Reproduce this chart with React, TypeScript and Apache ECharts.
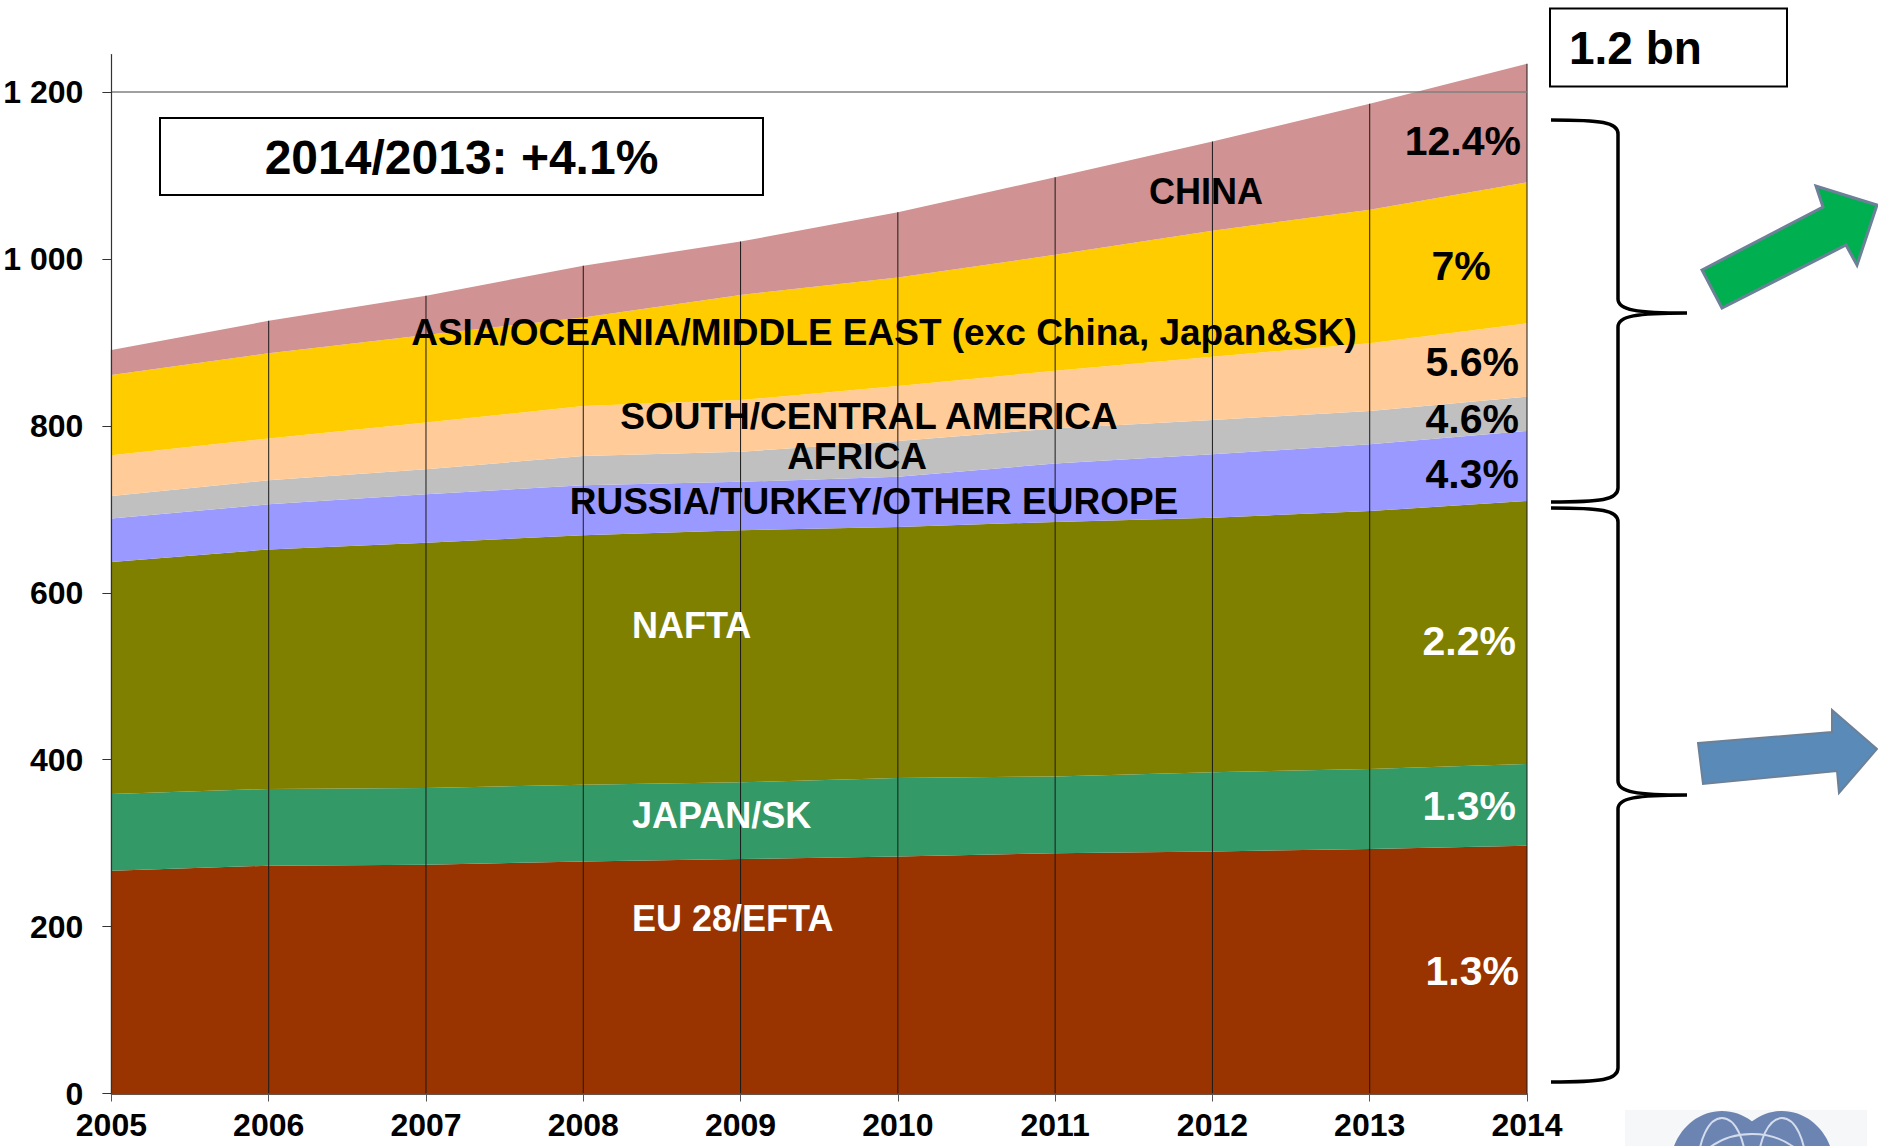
import React, { useEffect, useRef } from 'react';
import * as echarts from 'echarts';

const FONT = "'Liberation Sans', Arial, Helvetica, sans-serif";

const years = ['2005', '2006', '2007', '2008', '2009', '2010', '2011', '2012', '2013', '2014'];
const euEfta = [267, 273, 274, 278, 281, 284, 288, 290, 293, 297];
const japanSk = [92, 92, 92, 92, 92, 94, 92, 95, 96, 98];
const nafta = [278, 287, 294, 299, 302, 301, 305, 305, 309, 315];
const russiaTurkey = [52, 54, 58, 60, 58, 60, 70, 76, 80, 84];
const africa = [27, 29, 30, 35, 36, 43, 42, 41, 40, 41];
const southCentralAmerica = [49, 50, 56, 60, 62, 66, 69, 76, 81, 88];
const asiaOceania = [96, 102, 105, 106, 126, 130, 139, 151, 160, 169];
const china = [30, 39, 47, 62, 64, 78, 93, 107, 127, 142];
const yTicks = [0, 200, 400, 600, 800, 1000, 1200];

const regionNames = [
  'EU 28/EFTA', 'JAPAN/SK', 'NAFTA', 'RUSSIA/TURKEY/OTHER EUROPE', 'AFRICA',
  'SOUTH/CENTRAL AMERICA', 'ASIA/OCEANIA/MIDDLE EAST (exc China, Japan&SK)', 'CHINA',
];
const regionColors = ['#993300', '#339966', '#808000', '#9999FF', '#C0C0C0', '#FFCC99', '#FFCC00', '#D09292'];
const growthLabels = ['1.3%', '1.3%', '2.2%', '4.3%', '4.6%', '5.6%', '7%', '12.4%'];
const totalGrowth = '2014/2013: +4.1%';
const totalLabel = '1.2 bn';

const regionData = [euEfta, japanSk, nafta, russiaTurkey, africa, southCentralAmerica, asiaOceania, china];
const totals = years.map((_, i) => regionData.reduce((s, arr) => s + arr[i], 0));

function bracePath(xL: number, xS: number, xT: number, y0: number, ym: number, y1: number) {
  const r = 14;
  return `M${xL} ${y0} C${xL + 50} ${y0} ${xS} ${y0 + 2} ${xS} ${y0 + r} L${xS} ${ym - r} C${xS} ${ym - 3} ${xS + 18} ${ym} ${xT} ${ym} M${xT} ${ym} C${xS + 18} ${ym} ${xS} ${ym + 3} ${xS} ${ym + r} L${xS} ${y1 - r} C${xS} ${y1 - 2} ${xL + 50} ${y1} ${xL} ${y1}`;
}

const txt = (text: string, x: number, y: number, size: number, color: string, align = 'center') => ({
  type: 'text',
  x,
  y,
  z: 100,
  silent: true,
  style: {
    text,
    fill: color,
    fontSize: size,
    fontWeight: 'bold',
    fontFamily: FONT,
    align,
    verticalAlign: 'middle',
    textAlign: align,
    textVerticalAlign: 'middle',
  },
});

export default function App() {
  const ref = useRef<HTMLDivElement>(null);

  useEffect(() => {
    if (!ref.current) return;
    echarts.graphic.registerShape('braceUpper', echarts.graphic.extendPath(bracePath(1551, 1618, 1687, 120, 313, 502), {}));
    echarts.graphic.registerShape('braceLower', echarts.graphic.extendPath(bracePath(1551, 1618, 1687, 508, 795, 1082), {}));
    const chart = echarts.init(ref.current, undefined, { renderer: 'svg' });

    const areaSeries = regionData.map((d, i) => ({
      name: regionNames[i],
      type: 'line',
      stack: 'total',
      data: d,
      symbol: 'none',
      showSymbol: false,
      lineStyle: { width: 0 },
      areaStyle: { color: regionColors[i], opacity: 1 },
      itemStyle: { color: regionColors[i] },
      z: 2,
      silent: true,
    }));

    const option: any = {
      animation: false,
      backgroundColor: '#ffffff',
      grid: { left: 111.4, right: 351, top: 54.6, bottom: 52.5, containLabel: false, outerBoundsMode: 'none' },
      xAxis: {
        type: 'category',
        data: years,
        boundaryGap: false,
        axisLine: { lineStyle: { color: '#3a1a0a', width: 1.5 } },
        axisTick: { show: true, length: 8, lineStyle: { color: '#555' } },
        axisLabel: { color: '#000', fontSize: 32, fontWeight: 'bold', fontFamily: FONT, margin: 15 },
        splitLine: { show: false },
        z: 10,
      },
      yAxis: {
        type: 'value',
        min: 0,
        max: 1245,
        interval: 200,
        axisLine: { show: true, lineStyle: { color: '#333', width: 1.2 } },
        axisTick: { show: true, length: 9, customValues: yTicks, lineStyle: { color: '#333' } },
        axisLabel: {
          customValues: yTicks,
          color: '#000',
          fontSize: 32,
          fontWeight: 'bold',
          fontFamily: FONT,
          margin: 28,
          formatter: (v: number) => (v >= 1000 ? `${Math.floor(v / 1000)} ${String(v % 1000).padStart(3, '0')}` : String(v)),
        },
        splitLine: { show: false },
        z: 10,
      },
      series: [
        ...areaSeries,
        {
          name: 'drop',
          type: 'bar',
          data: totals,
          barWidth: 1,
          itemStyle: { color: '#1a1a1a' },
          z: 4,
          silent: true,
          markLine: {
            symbol: 'none',
            silent: true,
            label: { show: false },
            lineStyle: { color: '#808080', width: 1.5, type: 'solid' },
            data: [{ yAxis: 1200 }],
          },
        },
      ],
      graphic: [
        { type: 'rect', z: 99, shape: { x: 160, y: 118, width: 603, height: 77 }, style: { fill: '#fff', stroke: '#000', lineWidth: 2 } },
        txt(totalGrowth, 461.5, 157, 48, '#000'),
        { type: 'rect', z: 99, shape: { x: 1550, y: 8.5, width: 237, height: 78 }, style: { fill: '#fff', stroke: '#000', lineWidth: 2 } },
        txt(totalLabel, 1569, 48, 46, '#000', 'left'),
        // region labels
        txt(regionNames[7], 1206, 191, 36, '#000'),
        txt(regionNames[6], 884, 332, 37, '#000'),
        txt(regionNames[5], 869, 416, 37, '#000'),
        txt(regionNames[4], 857, 456, 37, '#000'),
        txt(regionNames[3], 874, 501, 37, '#000'),
        txt(regionNames[2], 632, 625, 36, '#fff', 'left'),
        txt(regionNames[1], 632, 815, 36, '#fff', 'left'),
        txt(regionNames[0], 632, 918, 36, '#fff', 'left'),
        // growth labels
        txt(growthLabels[7], 1521, 141, 41, '#000', 'right'),
        txt(growthLabels[6], 1461, 266, 41, '#000'),
        txt(growthLabels[5], 1519, 362, 41, '#000', 'right'),
        txt(growthLabels[4], 1519, 419, 41, '#000', 'right'),
        txt(growthLabels[3], 1519, 474, 41, '#000', 'right'),
        txt(growthLabels[2], 1516, 641, 41, '#fff', 'right'),
        txt(growthLabels[1], 1516, 806, 41, '#fff', 'right'),
        txt(growthLabels[0], 1519, 971, 41, '#fff', 'right'),
        // braces
        { type: 'braceUpper', z: 100, silent: true, style: { stroke: '#000', lineWidth: 3.5, fill: 'none' } },
        { type: 'braceLower', z: 100, silent: true, style: { stroke: '#000', lineWidth: 3.5, fill: 'none' } },
        // arrows
        {
          type: 'polygon', z: 100, silent: true,
          shape: { points: [[1702, 270], [1823, 207], [1816, 186], [1877, 205], [1857, 265], [1846, 245], [1722, 308]] },
          style: { fill: '#00B050', stroke: '#6C8198', lineWidth: 3 },
        },
        {
          type: 'polygon', z: 100, silent: true,
          shape: { points: [[1698, 743], [1832, 732], [1832, 710], [1877, 749], [1839, 793], [1837, 771], [1703, 784]] },
          style: { fill: '#5A8AB8', stroke: '#6C8198', lineWidth: 2 },
        },
        // logo
        { type: 'rect', z: 98, silent: true, shape: { x: 1625, y: 1110, width: 242, height: 36 }, style: { fill: '#F6F7F9' } },
        { type: 'ellipse', z: 99, silent: true, shape: { cx: 1722, cy: 1168, rx: 52, ry: 57 }, style: { fill: '#6B84B2' } },
        { type: 'ellipse', z: 99, silent: true, shape: { cx: 1782, cy: 1168, rx: 52, ry: 57 }, style: { fill: '#6B84B2' } },
        { type: 'ellipse', z: 100, silent: true, shape: { cx: 1722, cy: 1168, rx: 24, ry: 50 }, style: { fill: 'none', stroke: '#D3DCEC', lineWidth: 2 } },
        { type: 'ellipse', z: 100, silent: true, shape: { cx: 1782, cy: 1168, rx: 24, ry: 50 }, style: { fill: 'none', stroke: '#D3DCEC', lineWidth: 2 } },
        { type: 'ellipse', z: 100, silent: true, shape: { cx: 1752, cy: 1192, rx: 66, ry: 58 }, style: { fill: 'none', stroke: '#D3DCEC', lineWidth: 2 } },
      ],
    };

    chart.setOption(option);
    return () => chart.dispose();
  }, []);

  return <div ref={ref} style={{ position: 'absolute', left: 0, top: 0, width: 1878, height: 1146 }} />;
}
